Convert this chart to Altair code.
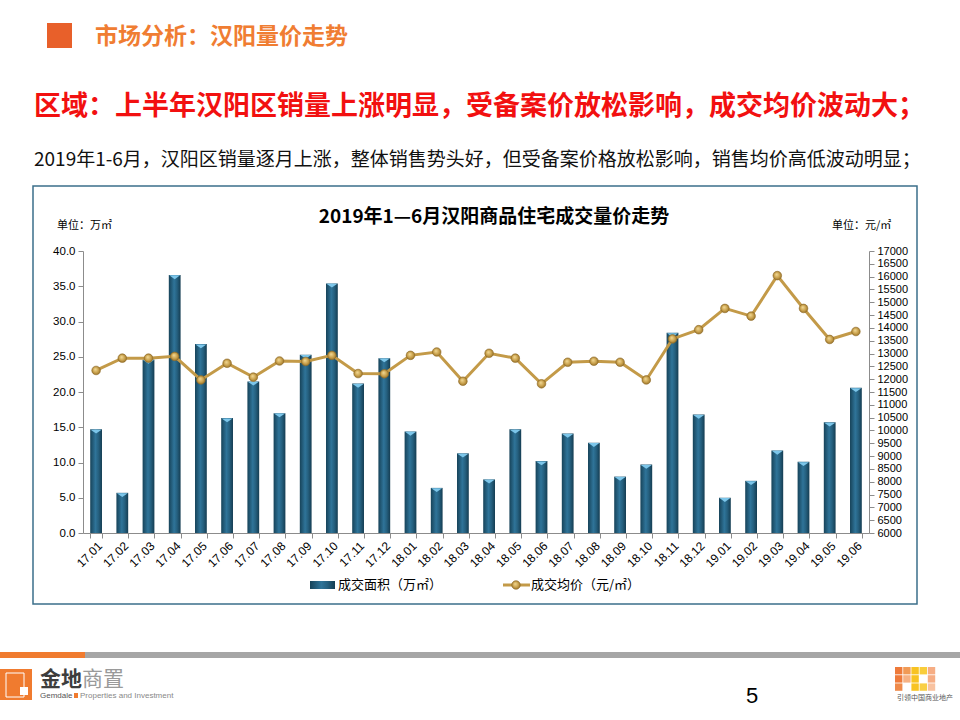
import altair as alt
import pandas as pd

# ---------------- data ----------------
months = ["17.01", "17.02", "17.03", "17.04", "17.05", "17.06", "17.07", "17.08", "17.09", "17.10",
          "17.11", "17.12", "18.01", "18.02", "18.03", "18.04", "18.05", "18.06", "18.07", "18.08",
          "18.09", "18.10", "18.11", "18.12", "19.01", "19.02", "19.03", "19.04", "19.05", "19.06"]
area = [14.7, 5.7, 24.6, 36.6, 26.8, 16.3, 21.5, 17.0, 25.3, 35.4,
        21.2, 24.8, 14.4, 6.4, 11.3, 7.6, 14.7, 10.2, 14.1, 12.8,
        8.0, 9.7, 28.4, 16.8, 5.0, 7.4, 11.7, 10.1, 15.7, 20.6]
price = [12340, 12820, 12820, 12890, 11970, 12620, 12080, 12710, 12690, 12930,
         12220, 12210, 12930, 13060, 11920, 13010, 12820, 11820, 12660, 12700,
         12660, 11970, 13570, 13930, 14760, 14460, 16040, 14760, 13550, 13860]
left_ticks = [0, 5, 10, 15, 20, 25, 30, 35, 40]
right_ticks = list(range(6000, 17001, 500))

df = pd.DataFrame({"month": months, "area": area, "price": price})
one = pd.DataFrame({"k": [0]})

FONT = "Noto Sans CJK SC"
NUMFONT = "Liberation Sans"
OX, OY = 83, 251          # plot origin on the page
W, H = 786, 282

BAR_FILL = alt.Gradient(gradient="linear", x1=0, x2=1, y1=0, y2=0,
                        stops=[alt.GradientStop(color="#174359", offset=0),
                               alt.GradientStop(color="#2f7499", offset=0.45),
                               alt.GradientStop(color="#25607f", offset=0.7),
                               alt.GradientStop(color="#153d52", offset=1)])
DOT_FILL = alt.Gradient(gradient="radial", x1=0.4, y1=0.35, r1=0, x2=0.5, y2=0.5, r2=0.55,
                        stops=[alt.GradientStop(color="#f4dc9a", offset=0),
                               alt.GradientStop(color="#c9a14c", offset=0.6),
                               alt.GradientStop(color="#8f6a25", offset=1)])
GOLD = "#c39a48"
AX = dict(labelFont=NUMFONT, labelColor="#000", domainColor="#8c8c8c", tickColor="#8c8c8c",
          tickSize=5, grid=False)

xenc = alt.X("month:N", sort=months, title=None,
             scale=alt.Scale(paddingInner=0.55, paddingOuter=0.275),
             axis=alt.Axis(labelAngle=-45, tickBand="extent", labelFontSize=12, labelPadding=2, **AX))

bars = alt.Chart(df).mark_bar(fill=BAR_FILL).encode(
    x=xenc,
    y=alt.Y("area:Q", title=None, scale=alt.Scale(domain=[0, 40], nice=False),
            axis=alt.Axis(values=left_ticks, format=".1f", orient="left",
                          labelFontSize=11.5, labelPadding=3, **AX)))

caps = alt.Chart(df).mark_point(shape="M-1,-0.3L1,-0.3L0,0.4Z", filled=True, color="#7cc6ea",
                                 size=120, opacity=1, yOffset=2).encode(
    x=alt.X("month:N", sort=months),
    y=alt.Y("area:Q", scale=alt.Scale(domain=[0, 40], nice=False), axis=None))

line = alt.Chart(df).mark_line(color=GOLD, strokeWidth=3,
                               point=alt.OverlayMarkDef(filled=True, fill=DOT_FILL, size=75,
                                                        stroke="#8f6a25", strokeWidth=0.6)).encode(
    x=alt.X("month:N", sort=months),
    y=alt.Y("price:Q", title=None, scale=alt.Scale(domain=[6000, 17000], nice=False, zero=False),
            axis=alt.Axis(values=right_ticks, format="d", orient="right",
                          labelFontSize=11, labelPadding=3, **AX)))


def T(text, x, y, size, color="#000", weight="normal", align="left", font=FONT):
    return alt.Chart(one).mark_text(text=text, align=align, baseline="middle", fontSize=size,
                                    color=color, fontWeight=weight, font=font).encode(
        x=alt.value(x - OX), y=alt.value(y - OY))


def R(x1, y1, x2, y2, fill, **kw):
    return alt.Chart(one).mark_rect(fill=fill, **kw).encode(
        x=alt.value(x1 - OX), x2=alt.value(x2 - OX), y=alt.value(y1 - OY), y2=alt.value(y2 - OY))


logo_colors = [
    ["#ee7a3a", "#f19a55", "#f8c322", "#f9cd3a", "#f6ad84"],
    ["#ee7a3a", "#f6b183", "#f8c322", None, "#f6ad84"],
    ["#ef8a4a", None, "#f8c322", "#f9cf45", "#f8c2a0"],
]
logo = []
for r, row in enumerate(logo_colors):
    for c, col in enumerate(row):
        if col:
            x0 = 895 + c * 8.2
            y0 = 667 + r * 8.2
            logo.append(R(x0, y0, x0 + 7.4, y0 + 7.4, col))

deco = [
    # header
    R(47, 23, 72, 48, "#e8602a"),
    T("市场分析：汉阳量价走势", 95, 37, 23, "#f07d32", "bold"),
    T("区域：上半年汉阳区销量上涨明显，受备案价放松影响，成交均价波动大；", 34, 107, 27, "#f21010", "bold"),
    T("2019年1-6月，汉阳区销量逐月上涨，整体销售势头好，但受备案价格放松影响，销售均价高低波动明显；", 34, 160, 19, "#111"),
    # chart frame
    alt.Chart(one).mark_rect(fill="transparent", stroke="#3b6f8a", strokeWidth=1.5).encode(
        x=alt.value(33 - OX), x2=alt.value(917 - OX), y=alt.value(186 - OY), y2=alt.value(604 - OY)),
    T("2019年1—6月汉阳商品住宅成交量价走势", 494, 217, 19, "#000", "bold", "center"),
    T("单位：万㎡", 57, 226, 11),
    T("单位：元/㎡", 832, 226, 11),
    # legend
    alt.Chart(one).mark_rect(fill=BAR_FILL).encode(
        x=alt.value(310 - OX), x2=alt.value(335 - OX), y=alt.value(581 - OY), y2=alt.value(589 - OY)),
    T("成交面积（万㎡）", 338, 585, 13),
    alt.Chart(one).mark_rule(color=GOLD, strokeWidth=3).encode(
        x=alt.value(503 - OX), x2=alt.value(530 - OX), y=alt.value(585 - OY)),
    alt.Chart(one).mark_point(filled=True, fill=DOT_FILL, size=75, stroke="#8f6a25", strokeWidth=0.6,
                              opacity=1).encode(x=alt.value(516 - OX), y=alt.value(585 - OY)),
    T("成交均价（元/㎡）", 531, 585, 13),
    # footer
    R(0, 652, 85, 658, "#f07b2f"),
    R(85, 652, 960, 658, "#a6a6a6"),
    R(0, 669, 32, 700, "#f07b2f"),
    R(6, 673, 24, 697, "transparent", stroke="#ffffff", strokeWidth=1),
    R(20, 687, 28, 695, "#ffffff"),
    T("金地", 40, 680, 21, "#3d3d3d", "bold"),
    T("商置", 82, 680, 21, "#9a9a9a"),
    T("Gemdale", 40, 696, 8, "#555", font=NUMFONT),
    R(74, 693, 78, 698, "#f07b2f"),
    T("Properties and Investment", 80, 696, 8, "#888", font=NUMFONT),
    T("5", 752, 696, 22, "#000", font=NUMFONT, align="center"),
    T("引领中国商业地产", 897, 698, 7, "#555"),
] + logo

chart = alt.layer(bars, caps, line, *deco).resolve_scale(y="independent").properties(
    width=W, height=H,
    autosize=alt.AutoSizeParams(type="none"),
    padding={"left": OX, "top": OY, "right": 960 - OX - W, "bottom": 720 - OY - H},
    background="#ffffff",
).configure_view(stroke=None)

chart.save("out.html", embed_options={"renderer": "svg", "actions": False})
